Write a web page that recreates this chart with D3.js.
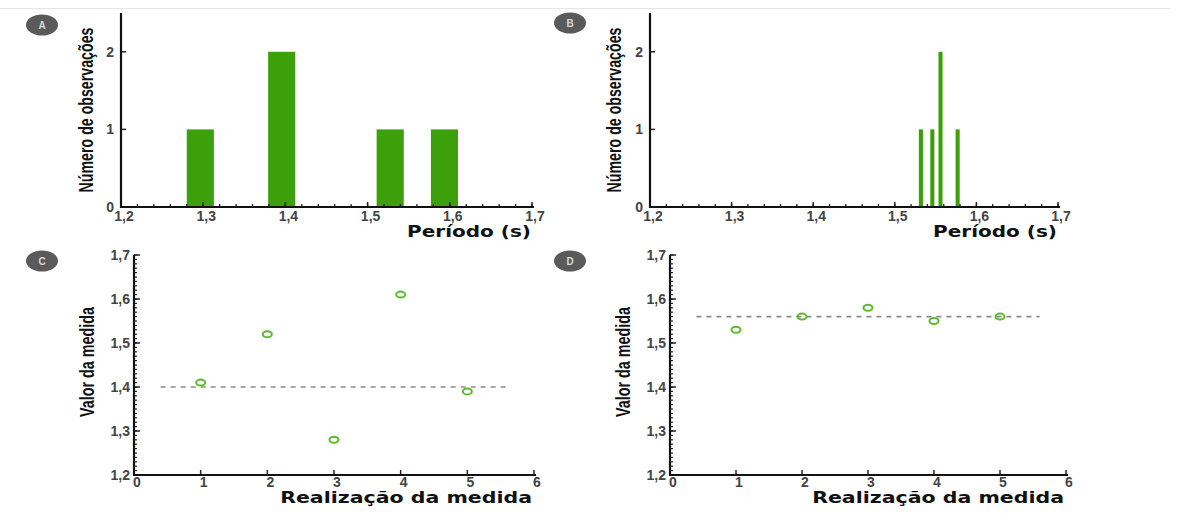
<!DOCTYPE html>
<html><head><meta charset="utf-8">
<script src="https://cdn.jsdelivr.net/npm/d3@7"></script>
<style>body{margin:0;background:#fff}svg{display:block}</style>
</head><body><svg id="c" width="1181" height="515"></svg>
<script>
// ---- data ----
const histA_centers = [1.2965, 1.3955, 1.5275, 1.5935];
const histA_counts  = [1, 2, 1, 1];
const histA_binWidth = 0.033;
const histB_centers = [1.532, 1.546, 1.556, 1.577];
const histB_counts  = [1, 1, 2, 1];
const histB_binWidth = 0.005;
const realizations = [1, 2, 3, 4, 5];
const valuesC = [1.41, 1.52, 1.28, 1.61, 1.39];
const valuesD = [1.53, 1.56, 1.58, 1.55, 1.56];
const refLineC = 1.40;
const refLineD = 1.56;
const refLineRange = [0.4, 5.6];
const periodTicks = [1.2, 1.3, 1.4, 1.5, 1.6, 1.7];
const countTicks = [0, 1, 2];
const valueTicks = [1.2, 1.3, 1.4, 1.5, 1.6, 1.7];
const realTicks = [0, 1, 2, 3, 4, 5, 6];
const panelLetters = ["A", "B", "C", "D"];
const xLabelHist = "Período (s)";
const yLabelHist = "Número de observações";
const xLabelScatter = "Realização da medida";
const yLabelScatter = "Valor da medida";

const svg = d3.select("#c");
const fmt = d => String(d).replace(".", ",");
const barColor = "#3ba00a";
const markColor = "#5cba2a";
const tickFont = "Liberation Sans, Arial, sans-serif";
const tickColor = "#444";

svg.append("line").attr("x1", 0).attr("x2", 1170).attr("y1", 8.5).attr("y2", 8.5)
  .attr("stroke", "#e6e6e6").attr("stroke-width", 1);

function badge(cx, cy, letter) {
  svg.append("ellipse").attr("cx", cx).attr("cy", cy).attr("rx", 16).attr("ry", 10.5).attr("fill", "#5a5a5a");
  svg.append("text").attr("x", cx).attr("y", cy + 3.5).attr("text-anchor", "middle")
    .attr("font-family", tickFont).attr("font-size", 10).attr("font-weight", "bold")
    .attr("fill", "#d8d8d8").text(letter);
}

function axesLines(g, x0, x1, y0, y1) {
  g.append("line").attr("x1", x0).attr("x2", x0).attr("y1", y1).attr("y2", y0 + 1)
    .attr("stroke", "#111").attr("stroke-width", 2.2);
  g.append("line").attr("x1", x0 - 1).attr("x2", x1).attr("y1", y0).attr("y2", y0)
    .attr("stroke", "#111").attr("stroke-width", 2.2);
}

function yLabel(g, x, y, len, txt) {
  const t = g.append("text")
    .attr("text-anchor", "middle")
    .attr("font-family", "Liberation Sans Narrow, Arial Narrow, sans-serif").attr("font-size", 20).attr("font-weight", "bold")
    .attr("fill", "#111").text(txt);
  const natural = t.node().getComputedTextLength();
  const s = Math.min(1, len / natural);
  t.attr("transform", `translate(${x},${y}) rotate(-90) scale(${s},1)`);
}

function xLabel(g, x, y, len, size, txt) {
  const t = g.append("text").attr("text-anchor", "end")
    .attr("font-family", "DejaVu Sans, sans-serif").attr("font-size", size).attr("font-weight", "bold")
    .attr("fill", "#111").text(txt);
  const natural = t.node().getComputedTextLength();
  const s = len / natural;
  t.attr("transform", `translate(${x},${y}) scale(${s},1)`);
}

function histPanel(opt) {
  const g = svg.append("g");
  const x = d3.scaleLinear().domain([1.2, 1.7]).range([opt.x0, opt.x1]);
  const y = d3.scaleLinear().domain([0, 2.5]).range([opt.y0, opt.y1]);
  g.selectAll("rect.bar").data(opt.centers.map((c, i) => ({c, n: opt.counts[i]})))
    .enter().append("rect")
    .attr("x", d => x(d.c - opt.bw / 2)).attr("width", d => x(d.c + opt.bw / 2) - x(d.c - opt.bw / 2))
    .attr("y", d => y(d.n)).attr("height", d => y(0) - y(d.n))
    .attr("fill", barColor);
  const minor = d3.range(1.2, 1.7001, 0.02);
  g.selectAll("line.mx").data(minor).enter().append("line")
    .attr("x1", d => x(d)).attr("x2", d => x(d)).attr("y1", y(0)).attr("y2", y(0) - 3)
    .attr("stroke", "#222").attr("stroke-width", 1.3);
  g.selectAll("line.Mx").data(periodTicks).enter().append("line")
    .attr("x1", d => x(d)).attr("x2", d => x(d)).attr("y1", y(0)).attr("y2", y(0) - 5)
    .attr("stroke", "#222").attr("stroke-width", 1.5);
  g.selectAll("text.xt").data(periodTicks).enter().append("text")
    .attr("x", d => x(d) + 3).attr("y", y(0) + 14).attr("text-anchor", "middle")
    .attr("font-family", tickFont).attr("font-size", 14).attr("font-weight", "bold")
    .attr("fill", tickColor).text(fmt);
  g.selectAll("line.My").data(countTicks).enter().append("line")
    .attr("x1", opt.x0).attr("x2", opt.x0 + 5).attr("y1", d => y(d)).attr("y2", d => y(d))
    .attr("stroke", "#222").attr("stroke-width", 1.5);
  g.selectAll("text.yt").data(countTicks).enter().append("text")
    .attr("x", opt.x0 - 7).attr("y", d => y(d) + 5).attr("text-anchor", "end")
    .attr("font-family", tickFont).attr("font-size", 14).attr("font-weight", "bold")
    .attr("fill", tickColor).text(d => d);
  axesLines(g, opt.x0, opt.x1 + 2, y(0), y(2.5));
  xLabel(g, opt.x1 - 1, y(0) + 30, 124, 15, xLabelHist);
  yLabel(g, opt.ylx, opt.yly, 165, yLabelHist);
}

function scatterPanel(opt) {
  const g = svg.append("g");
  const x = d3.scaleLinear().domain([0, 6]).range([opt.x0, opt.x1]);
  const y = d3.scaleLinear().domain([1.2, 1.7]).range([opt.y0, opt.y1]);
  const minor = d3.range(1.2, 1.7001, 0.01);
  g.selectAll("line.my").data(minor).enter().append("line")
    .attr("x1", opt.x0).attr("x2", opt.x0 + 3).attr("y1", d => y(d)).attr("y2", d => y(d))
    .attr("stroke", "#222").attr("stroke-width", 1.2);
  g.selectAll("line.My").data(valueTicks).enter().append("line")
    .attr("x1", opt.x0).attr("x2", opt.x0 + 6).attr("y1", d => y(d)).attr("y2", d => y(d))
    .attr("stroke", "#222").attr("stroke-width", 1.5);
  g.selectAll("text.yt").data(valueTicks).enter().append("text")
    .attr("x", opt.x0 - 4).attr("y", d => y(d) + 5).attr("text-anchor", "end")
    .attr("font-family", tickFont).attr("font-size", 14).attr("font-weight", "bold")
    .attr("fill", tickColor).text(fmt);
  g.selectAll("line.Mx").data(realTicks).enter().append("line")
    .attr("x1", d => x(d)).attr("x2", d => x(d)).attr("y1", y(1.2)).attr("y2", y(1.2) - 5)
    .attr("stroke", "#222").attr("stroke-width", 1.5);
  g.selectAll("text.xt").data(realTicks).enter().append("text")
    .attr("x", d => x(d) + 3).attr("y", y(1.2) + 12).attr("text-anchor", "middle")
    .attr("font-family", tickFont).attr("font-size", 14).attr("font-weight", "bold")
    .attr("fill", tickColor).text(d => d);
  axesLines(g, opt.x0, opt.x1 + 2, y(1.2), y(1.7));
  g.append("line").attr("x1", x(refLineRange[0])).attr("x2", x(refLineRange[1]))
    .attr("y1", y(opt.ref)).attr("y2", y(opt.ref))
    .attr("stroke", "#8a8a8a").attr("stroke-width", 1.6).attr("stroke-dasharray", "5,5");
  g.selectAll("ellipse.pt").data(realizations.map((r, i) => ({r, v: opt.values[i]})))
    .enter().append("ellipse")
    .attr("cx", d => x(d.r)).attr("cy", d => y(d.v)).attr("rx", 4.5).attr("ry", 3)
    .attr("fill", "none").attr("stroke", markColor).attr("stroke-width", 2);
  xLabel(g, opt.x1 - 2, y(1.2) + 28, 252, 16, xLabelScatter);
  yLabel(g, opt.ylx, opt.yly, 110, yLabelScatter);
}

histPanel({x0: 121, x1: 532, y0: 207, y1: 13, centers: histA_centers, counts: histA_counts, bw: histA_binWidth, ylx: 93, yly: 110});
histPanel({x0: 650, x1: 1058, y0: 207, y1: 13, centers: histB_centers, counts: histB_counts, bw: histB_binWidth, ylx: 621, yly: 110});
scatterPanel({x0: 134, x1: 534, y0: 475, y1: 255, values: valuesC, ref: refLineC, ylx: 94, yly: 362});
scatterPanel({x0: 670, x1: 1066, y0: 475, y1: 255, values: valuesD, ref: refLineD, ylx: 630, yly: 362});

badge(42, 25, panelLetters[0]);
badge(570, 23, panelLetters[1]);
badge(42, 261, panelLetters[2]);
badge(570, 261, panelLetters[3]);
</script></body></html>
